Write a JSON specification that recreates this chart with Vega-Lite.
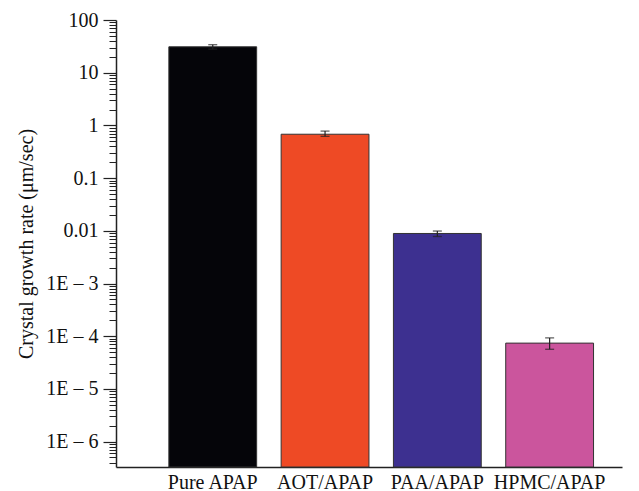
{
  "$schema": "https://vega.github.io/schema/vega-lite/v6.json",
  "autosize": {"type": "none"},
  "padding": {"left": 116, "top": 20, "right": 17, "bottom": 24},
  "width": 506,
  "height": 447,
  "background": "white",
  "config": {
    "view": {"stroke": null},
    "font": "Liberation Serif",
    "axis": {"labelFont": "Liberation Serif", "titleFont": "Liberation Serif", "labelColor": "#111", "titleColor": "#111", "grid": false}
  },
  "data": {
    "values": [
      {"name": "Pure APAP", "value": 31, "lo": 28, "hi": 34, "base": 3.3e-7, "color": "#050509"},
      {"name": "AOT/APAP", "value": 0.68, "lo": 0.62, "hi": 0.78, "base": 3.3e-7, "color": "#EE4A25"},
      {"name": "PAA/APAP", "value": 0.0089, "lo": 0.0078, "hi": 0.0099, "base": 3.3e-7, "color": "#3D3090"},
      {"name": "HPMC/APAP", "value": 7.4e-5, "lo": 5.65e-5, "hi": 9.3e-5, "base": 3.3e-7, "color": "#CB559D"}
    ]
  },
  "encoding": {
    "x": {
      "field": "name",
      "type": "nominal",
      "sort": null,
      "scale": {"paddingInner": 0.218, "paddingOuter": 0.362, "align": 0.65},
      "axis": {"title": null, "labelAngle": 0, "ticks": false, "labelFontSize": 20, "labelPadding": 5, "domainColor": "#222", "domainWidth": 1.5, "labelBaseline": "top"}
    }
  },
  "layer": [
    {
      "mark": {"type": "bar", "stroke": "#333", "strokeWidth": 1},
      "encoding": {
        "y": {
          "field": "value",
          "type": "quantitative",
          "scale": {"type": "log", "domain": [3.3e-7, 100], "nice": false},
          "axis": {
            "title": "Crystal growth rate (μm/sec)",
            "titleFontSize": 20,
            "titleFontWeight": "normal",
            "titlePadding": 9,
            "values": [1e-6, 1e-5, 1e-4, 1e-3, 0.01, 0.1, 1, 10, 100],
            "labelExpr": "datum.value >= 1 ? format(datum.value, 'd') : datum.value >= 0.01 ? format(datum.value, '.2~f') : '1E – ' + round(-log(datum.value) / LN10)",
            "labelFontSize": 20,
            "labelPadding": 5,
            "tickSize": 13,
            "tickColor": "#222",
            "tickWidth": 1.2,
            "domainColor": "#222",
            "domainWidth": 1.5
          }
        },
        "y2": {"field": "base"},
        "color": {"field": "color", "type": "nominal", "scale": null, "legend": null}
      }
    },
    {
      "mark": {"type": "rule", "color": "#222", "strokeWidth": 1.2},
      "encoding": {
        "y": {
          "field": "lo",
          "type": "quantitative",
          "axis": {
            "title": null,
            "orient": "left",
            "labels": false,
            "domain": false,
            "tickSize": 7,
            "tickColor": "#222",
            "tickWidth": 1,
            "values": [4e-7, 5e-7, 6e-7, 7e-7, 8e-7, 9e-7, 2e-6, 3e-6, 4e-6, 5e-6, 6e-6, 7e-6, 8e-6, 9e-6, 2e-5, 3e-5, 4e-5, 5e-5, 6e-5, 7e-5, 8e-5, 9e-5, 2e-4, 3e-4, 4e-4, 5e-4, 6e-4, 7e-4, 8e-4, 9e-4, 0.002, 0.003, 0.004, 0.005, 0.006, 0.007, 0.008, 0.009, 0.02, 0.03, 0.04, 0.05, 0.06, 0.07, 0.08, 0.09, 0.2, 0.3, 0.4, 0.5, 0.6, 0.7, 0.8, 0.9, 2, 3, 4, 5, 6, 7, 8, 9, 20, 30, 40, 50, 60, 70, 80, 90]
          }
        },
        "y2": {"field": "hi"}
      }
    },
    {
      "mark": {"type": "tick", "color": "#222", "size": 9, "thickness": 1.3},
      "encoding": {"y": {"field": "lo", "type": "quantitative", "axis": null}}
    },
    {
      "mark": {"type": "tick", "color": "#222", "size": 9, "thickness": 1.3},
      "encoding": {"y": {"field": "hi", "type": "quantitative", "axis": null}}
    }
  ],
  "resolve": {"axis": {"y": "independent"}}
}
